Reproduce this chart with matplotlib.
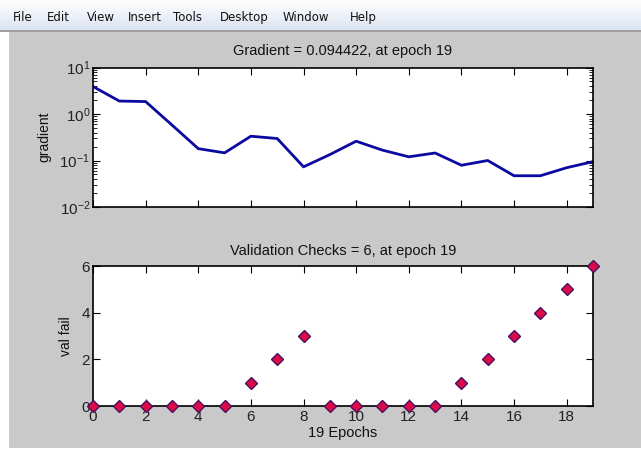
import numpy as np
import matplotlib
matplotlib.use("Agg")
import matplotlib.pyplot as plt
from matplotlib.patches import Rectangle
from matplotlib.ticker import LogLocator, NullFormatter, FixedLocator
from matplotlib.colors import LinearSegmentedColormap

epochs = list(range(20))
gradient = [3.9, 1.9, 1.85, 0.58, 0.18, 0.146, 0.333, 0.297, 0.073, 0.134,
            0.26, 0.167, 0.12, 0.145, 0.079, 0.10, 0.047, 0.047, 0.07, 0.094422]
val_fail = [0, 0, 0, 0, 0, 0, 1, 2, 3, 0, 0, 0, 0, 0, 1, 2, 3, 4, 5, 6]
menu_items = ["File", "Edit", "View", "Insert", "Tools", "Desktop", "Window", "Help"]
menu_x = [13, 47, 87, 128, 173, 220, 283, 350]

plt.rcParams['font.family'] = ['Liberation Sans', 'DejaVu Sans']
W, H = 641, 449
fig = plt.figure(figsize=(W/100, H/100), dpi=100)
fig.patch.set_facecolor('white')

# gray panel
fig.add_artist(Rectangle((9/W, 1/H), 1, (H-32)/H, transform=fig.transFigure,
                         facecolor='#c9c9c9', edgecolor='none', zorder=0))
# menu bar gradient
mb = fig.add_axes([0, 1-30/H, 1, 30/H])
grad = np.linspace(0, 1, 50)[:, None]
cm = LinearSegmentedColormap.from_list('mb', ['#ffffff', '#dce3f1'])
mb.imshow(grad, aspect='auto', cmap=cm, extent=[0, 1, 0, 1], origin='upper')
mb.set_axis_off()
fig.add_artist(Rectangle((0, 1-31.5/H), 1, 1.5/H, transform=fig.transFigure,
                         facecolor='#a0a0a0', edgecolor='none', zorder=2))
for t, x in zip(menu_items, menu_x):
    fig.text(x/W, 1-21/H, t, fontsize=8.5, family=['DejaVu Sans'], va='baseline',
             ha='left', color='#111111')

# top axes
ax1 = fig.add_axes([93/W, 1-207/H, 500/W, 139.5/H])
ax1.plot(epochs, gradient, color='#0a0aa0', lw=2)
ax1.set_yscale('log')
ax1.set_ylim(1e-2, 1e1)
ax1.set_xlim(0, 19)
ax1.xaxis.set_major_locator(FixedLocator([0, 2, 4, 6, 8, 10, 12, 14, 16, 18]))
ax1.set_xticklabels([])
ax1.yaxis.set_major_locator(LogLocator(base=10, numticks=10))
ax1.yaxis.set_minor_locator(LogLocator(base=10, subs=np.arange(2, 10), numticks=10))
ax1.yaxis.set_minor_formatter(NullFormatter())
ax1.set_title("Gradient = 0.094422, at epoch 19", fontsize=10.5, pad=9, color='#111111')
ax1.set_ylabel("gradient", fontsize=10, labelpad=6, color='#111111')

# bottom axes
ax2 = fig.add_axes([93/W, 1-406/H, 500/W, 140/H])
ax2.plot(epochs, val_fail, linestyle='none', marker='D', markersize=6.5,
         markerfacecolor='#dc0a46', markeredgecolor='#4a1060', markeredgewidth=1,
         clip_on=False, zorder=5)
ax2.set_xlim(0, 19)
ax2.set_ylim(0, 6)
ax2.xaxis.set_major_locator(FixedLocator([0, 2, 4, 6, 8, 10, 12, 14, 16, 18]))
ax2.yaxis.set_major_locator(FixedLocator([0, 2, 4, 6]))
ax2.set_title("Validation Checks = 6, at epoch 19", fontsize=10.5, pad=8, color='#111111')
ax2.set_ylabel("val fail", fontsize=10, labelpad=6, color='#111111')
ax2.set_xlabel("19 Epochs", fontsize=10.5, labelpad=1, color='#111111')

for ax in (ax1, ax2):
    ax.set_facecolor('white')
    for s in ax.spines.values():
        s.set_linewidth(1.2)
        s.set_color('black')
    ax.tick_params(which='both', direction='in', top=True, right=True,
                   labelsize=11, labelcolor='#222222')
    ax.tick_params(which='major', length=5)
    ax.tick_params(which='minor', length=3)
    ax.tick_params(axis='x', pad=3)
    ax.tick_params(axis='y', pad=2)

fig.savefig("out.png", dpi=100, facecolor=fig.get_facecolor())
